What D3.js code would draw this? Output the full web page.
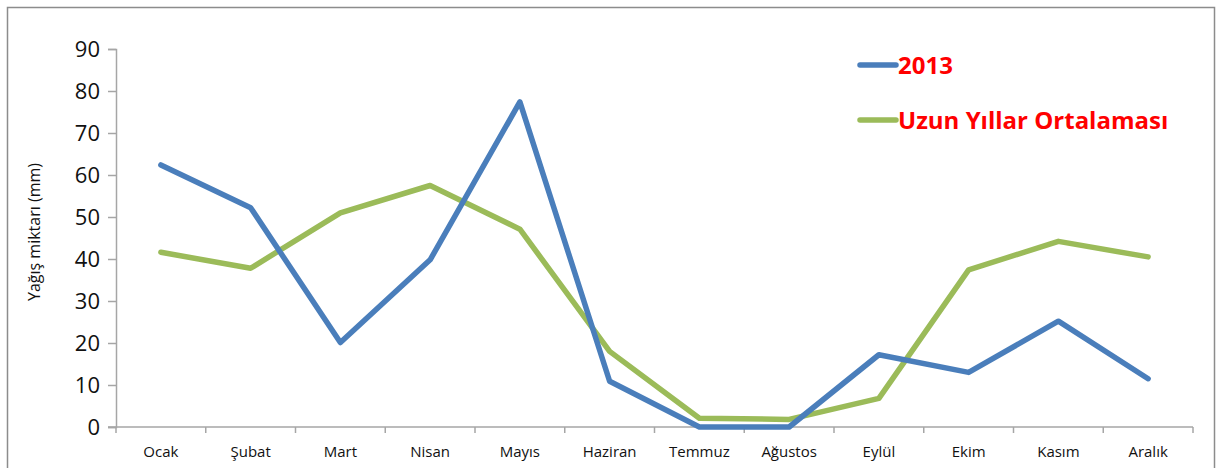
<!DOCTYPE html>
<html>
<head>
<meta charset="utf-8">
<script src="https://cdn.jsdelivr.net/npm/d3@7/dist/d3.min.js"></script>
<style>
  html, body { margin: 0; padding: 0; background: #fff; }
  svg { display: block; }
</style>
</head>
<body>
<svg id="chart" width="1217" height="468"></svg>
<script>
// Monthly precipitation (mm): 2013 vs. long-term average
const months = ["Ocak", "Şubat", "Mart", "Nisan", "Mayıs", "Haziran", "Temmuz", "Ağustos", "Eylül", "Ekim", "Kasım", "Aralık"];
const values2013 = [62.4, 52.2, 20.1, 39.8, 77.4, 10.9, 0, 0, 17.2, 13.0, 25.2, 11.5];
const valuesAverage = [41.6, 37.8, 51.0, 57.5, 47.1, 18.0, 2.1, 1.8, 6.8, 37.4, 44.2, 40.5];
const yTicks = [0, 10, 20, 30, 40, 50, 60, 70, 80, 90];
const seriesNames = ["2013", "Uzun Yıllar Ortalaması"];
const seriesColors = ["#4a7ebb", "#9bbb59"];

const svg = d3.select("#chart");
const font = "'Open Sans', 'Liberation Sans', sans-serif";

// outer frame
svg.append("rect")
  .attr("x", 7.5).attr("y", 7.5)
  .attr("width", 1207).attr("height", 470)
  .attr("fill", "#fff")
  .attr("stroke", "#8c8c8c").attr("stroke-width", 1.5);

const plot = { left: 116, right: 1193, top: 49, bottom: 427 };

const x = d3.scaleBand().domain(months).range([plot.left, plot.right]);
const y = d3.scaleLinear().domain([0, 90]).range([plot.bottom, plot.top]);

// y axis
const yAxis = svg.append("g")
  .attr("transform", `translate(${plot.left},0)`)
  .call(d3.axisLeft(y).tickValues(yTicks).tickSize(8).tickPadding(8));
yAxis.select(".domain").attr("stroke", "#a6a6a6").attr("stroke-width", 1.5);
yAxis.selectAll(".tick line").attr("stroke", "#a6a6a6").attr("stroke-width", 1.5);
yAxis.selectAll(".tick text")
  .attr("font-family", font).attr("font-size", 22).attr("fill", "#111");

// x axis with ticks on band boundaries
const xAxisG = svg.append("g").attr("transform", `translate(0,${plot.bottom})`);
xAxisG.append("line")
  .attr("x1", plot.left - 8).attr("x2", plot.right)
  .attr("stroke", "#a6a6a6").attr("stroke-width", 1.5);
const boundaries = months.map(m => x(m)).concat([x(months[months.length - 1]) + x.bandwidth()]);
xAxisG.selectAll("line.tick")
  .data(boundaries)
  .join("line")
  .attr("class", "tick")
  .attr("x1", d => d).attr("x2", d => d)
  .attr("y1", 0).attr("y2", 6)
  .attr("stroke", "#a6a6a6").attr("stroke-width", 1.5);
xAxisG.selectAll("text")
  .data(months)
  .join("text")
  .attr("x", d => x(d) + x.bandwidth() / 2)
  .attr("y", 30)
  .attr("text-anchor", "middle")
  .attr("font-family", font).attr("font-size", 15).attr("fill", "#111")
  .text(d => d);

// y axis title
svg.append("text")
  .attr("transform", `translate(40,232) rotate(-90)`)
  .attr("text-anchor", "middle")
  .attr("font-family", font).attr("font-size", 16).attr("fill", "#111")
  .text("Yağış miktarı (mm)");

// lines
const line = d3.line()
  .x((d, i) => x(months[i]) + x.bandwidth() / 2)
  .y(d => y(d));

[valuesAverage, values2013].forEach((vals, k) => {
  const color = k === 0 ? seriesColors[1] : seriesColors[0];
  svg.append("path")
    .datum(vals)
    .attr("d", line)
    .attr("fill", "none")
    .attr("stroke", color)
    .attr("stroke-width", 5.5)
    .attr("stroke-linejoin", "round")
    .attr("stroke-linecap", "round");
});

// legend
const legend = svg.append("g");
seriesNames.forEach((name, i) => {
  const ly = 65 + i * 55;
  legend.append("line")
    .attr("x1", 860).attr("x2", 896)
    .attr("y1", ly).attr("y2", ly)
    .attr("stroke", seriesColors[i])
    .attr("stroke-width", 5.5)
    .attr("stroke-linecap", "round");
  legend.append("text")
    .attr("x", 898).attr("y", ly + 9)
    .attr("font-family", font).attr("font-weight", "bold")
    .attr("font-size", 24).attr("fill", "#ff0000")
    .text(name);
});
</script>
</body>
</html>
